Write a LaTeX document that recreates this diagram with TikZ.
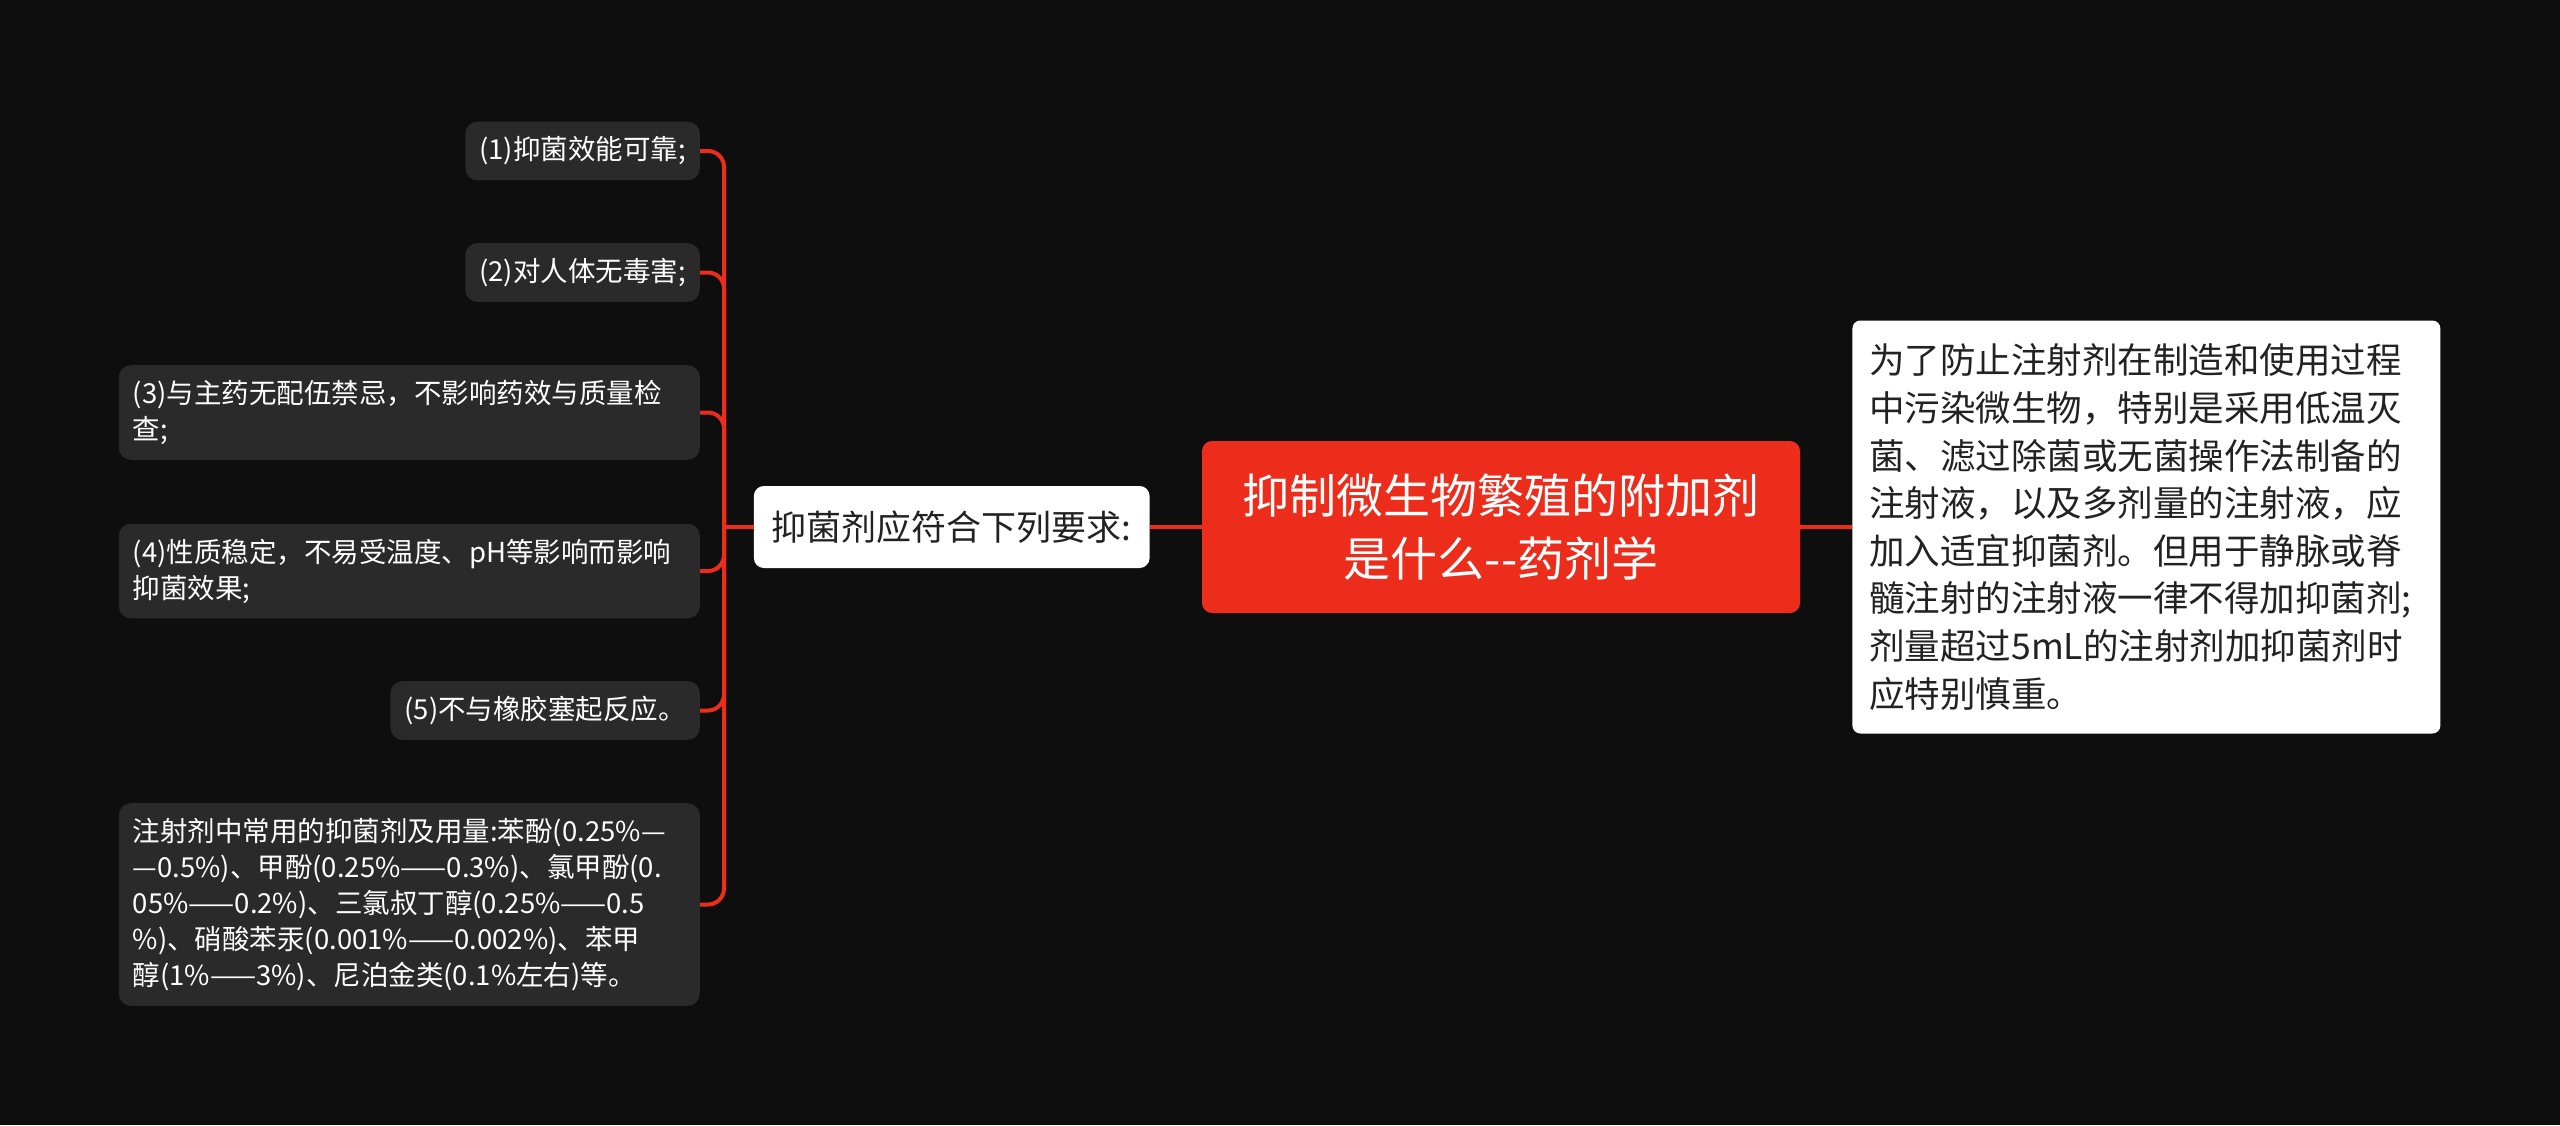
\documentclass[tikz,border=0pt]{standalone}
\usepackage{fontspec}
\setmainfont{Noto Sans CJK SC}
\usepackage{xcolor}
\usetikzlibrary{positioning}
\definecolor{bgdark}{HTML}{0E0E0E}
\definecolor{leafgray}{HTML}{2A2A2A}
\definecolor{mapred}{HTML}{EC2D1C}
\definecolor{inkdark}{HTML}{222222}

\begin{document}
\begin{tikzpicture}[x=1pt, y=-1pt,
    leaf/.style={fill=leafgray, text=white, rounded corners=12pt, inner xsep=14pt, inner ysep=15pt,
      font=\fontsize{27.5}{36}\selectfont, align=left, anchor=east},
    link/.style={draw=mapred, line width=4pt}]
      \fill[bgdark] (0,0) rectangle (2560,1125);

      \node[fill=mapred, text=white, rounded corners=10pt, minimum width=598pt, minimum height=172pt,
        align=center, font=\fontsize{47}{63}\selectfont] (m) at (1501,527) {抑制微生物繁殖的附加剂\\是什么-\kern0pt-药剂学};
      \node[left=52pt of m, fill=white, text=inkdark, rounded corners=10pt, minimum height=82pt,
        inner xsep=18pt, font=\fontsize{35}{42}\selectfont] (s) {抑菌剂应符合下列要求:};
      \node[right=52pt of m, fill=white, text=inkdark, rounded corners=8pt, text width=554pt,
        minimum height=413pt, inner xsep=17pt, align=left, font=\fontsize{35.5}{47.6}\selectfont] (w)
        {为了防止注射剂在制造和使用过程\\中污染微生物，特别是采用低温灭\\菌、滤过除菌或无菌操作法制备的\\注射液，以及多剂量的注射液，应\\加入适宜抑菌剂。但用于静脉或脊\\髓注射的注射液一律不得加抑菌剂;\\剂量超过5mL的注射剂加抑菌剂时\\应特别慎重。};

      \node[leaf] (l1) at (700,151) {(1)抑菌效能可靠;};
      \node[leaf] (l2) at (700,272.5) {(2)对人体无毒害;};
      \node[leaf, text width=553pt] (l3) at (700,412.5) {(3)与主药无配伍禁忌，不影响药效与质量检\\查;};
      \node[leaf, text width=553pt] (l4) at (700,571) {(4)性质稳定，不易受温度、pH等影响而影响\\抑菌效果;};
      \node[leaf] (l5) at (700,710.5) {(5)不与橡胶塞起反应。};
      \node[leaf, text width=553pt] (l6) at (700,904.5)
        {注射剂中常用的抑菌剂及用量:苯酚(0.25\%—\\—0.5\%)、甲酚(0.25\%——0.3\%)、氯甲酚(0.\\05\%——0.2\%)、三氯叔丁醇(0.25\%——0.5\\\%)、硝酸苯汞(0.001\%——0.002\%)、苯甲\\醇(1\%——3\%)、尼泊金类(0.1\%左右)等。};

      \coordinate (hub) at (724,527);
      \draw[link] (s) -- (hub);
      \foreach \i in {1,...,6}
        \draw[link, rounded corners=16pt] (hub) |- (l\i.east);

      \draw[link, line width=3.5pt] (s) -- (m);
      \draw[link, line width=3.5pt] (m) -- (w);
    \end{tikzpicture}
\end{document}
